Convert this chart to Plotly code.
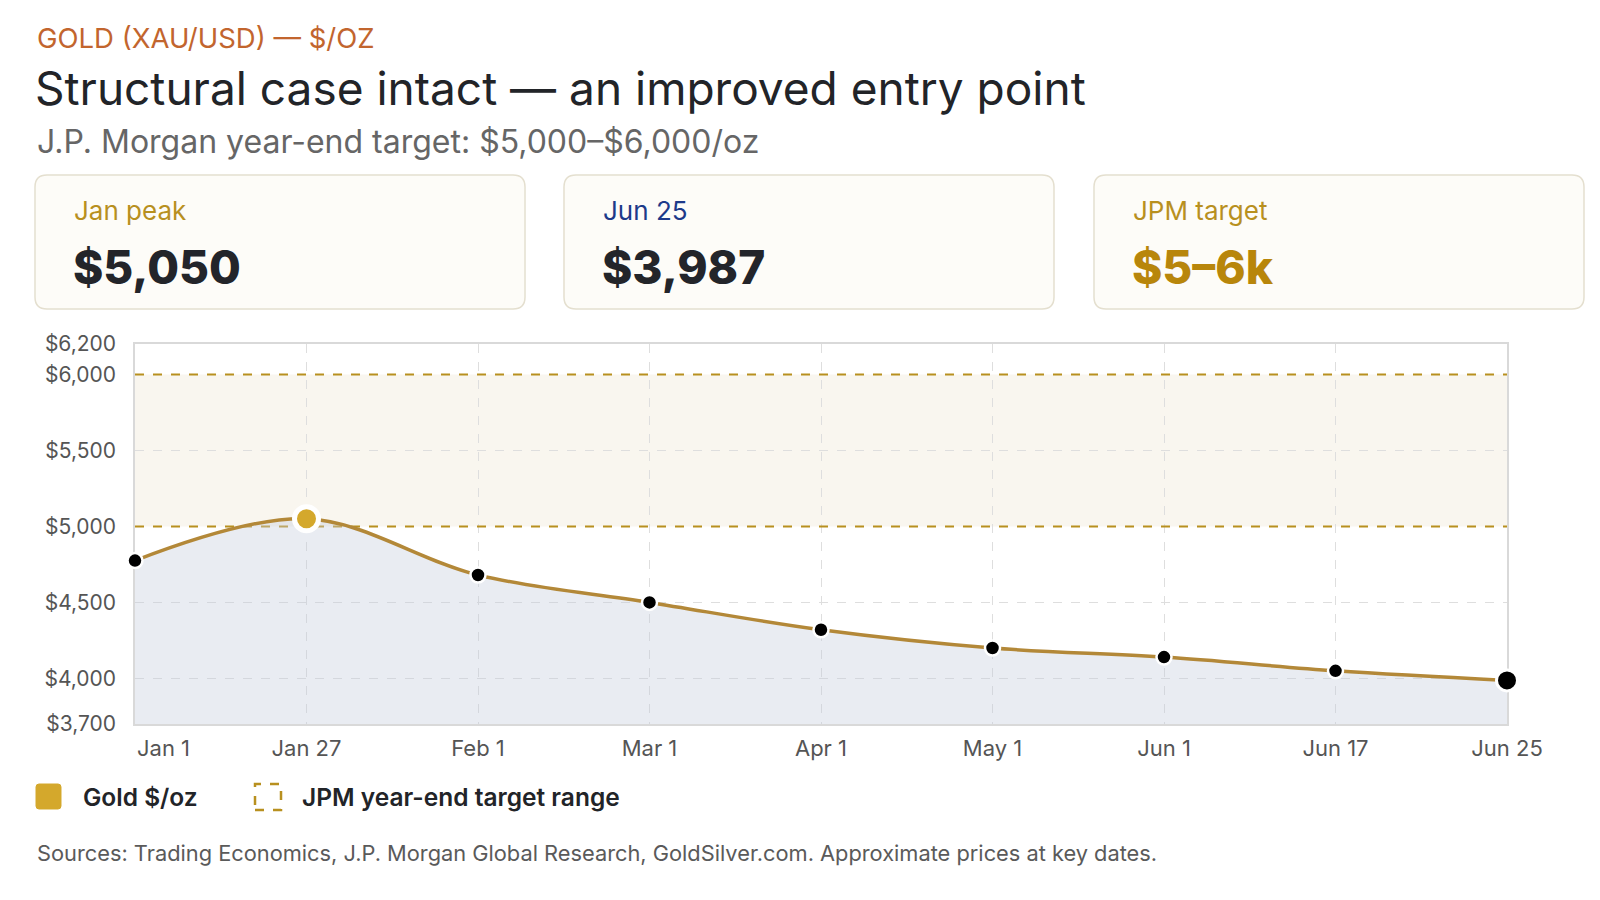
import re
import plotly.graph_objects as go

# ---------------- data ----------------
dates = ["Jan 1", "Jan 27", "Feb 1", "Mar 1", "Apr 1", "May 1", "Jun 1", "Jun 17", "Jun 25"]
prices = [4775, 5050, 4680, 4500, 4320, 4200, 4140, 4050, 3987]
target_low = 5000
target_high = 6000
y_ticks = [3700, 4000, 4500, 5000, 5500, 6000, 6200]
y_tick_labels = ["$3,700", "$4,000", "$4,500", "$5,000", "$5,500", "$6,000", "$6,200"]
cards = [
    ("Jan peak", "$5,050", "#b8901f", "#23252a"),
    ("Jun 25", "$3,987", "#1d3a8a", "#23252a"),
    ("JPM target", "$5–6k", "#b8901f", "#b8860b"),
]

# ---------------- geometry ----------------
W, H = 1600, 900
PL, PR, PT, PB = 135, 1507, 344, 724
FONT = "Inter"


def px(x):
    return (x - PL) / (PR - PL)


def py(y):
    return (PB - y) / (PB - PT)


LINE_C = "#b38838"
GOLD = "#d4a82c"
DASH_C = "#b8901f"

fig = go.Figure()

# target dashed lines (under area fill)
for v in (target_low, target_high):
    fig.add_trace(go.Scatter(
        x=dates, y=[v] * len(dates), mode="lines",
        line=dict(color=DASH_C, width=2, dash="dash"),
        hoverinfo="skip", showlegend=False,
    ))

# area + line
fig.add_trace(go.Scatter(
    x=dates, y=prices, mode="lines",
    line=dict(color=LINE_C, width=3.5, shape="spline", smoothing=1.0),
    fill="tozeroy", fillcolor="rgba(196,205,221,0.38)",
    showlegend=False, name="Gold $/oz", hoverinfo="skip",
))

peak_i = prices.index(max(prices))
last_i = len(prices) - 1
sizes = [24 if i == peak_i else (21 if i == last_i else 15) for i in range(len(prices))]
colors = [GOLD if i == peak_i else "#000000" for i in range(len(prices))]
lw = [5 if i == peak_i else (3 if i == last_i else 2.5) for i in range(len(prices))]

fig.add_trace(go.Scatter(
    x=dates, y=prices, mode="markers",
    marker=dict(size=sizes, color=colors, opacity=1, line=dict(color="white", width=lw)),
    cliponaxis=False, showlegend=False, name="Gold $/oz",
))

shapes = []
# target band
shapes.append(dict(type="rect", xref="paper", yref="y", x0=0, x1=1, y0=target_low, y1=target_high,
                   fillcolor="#f9f6ef", line=dict(width=0), layer="below"))


def conv(m):
    a, b = float(m.group(1)), float(m.group(2))
    return f"{px(a):.6f},{py(b):.6f}"


# cards
card_x = [(35, 525), (564, 1054), (1094, 1584)]
ann = []
for (x0, x1), (lab, val, lc, vc) in zip(card_x, cards):
    y0, y1 = 175, 309
    r = 12
    path = (f"M {x0 + r},{y0} L {x1 - r},{y0} Q {x1},{y0} {x1},{y0 + r} "
            f"L {x1},{y1 - r} Q {x1},{y1} {x1 - r},{y1} L {x0 + r},{y1} "
            f"Q {x0},{y1} {x0},{y1 - r} L {x0},{y0 + r} Q {x0},{y0} {x0 + r},{y0} Z")
    path_p = re.sub(r"(-?\d+\.?\d*),(-?\d+\.?\d*)", conv, path)
    shapes.append(dict(type="path", xref="paper", yref="paper", path=path_p,
                       fillcolor="#fdfcf8", line=dict(color="#e4dfcf", width=1.5)))
    ann.append(dict(x=px(x0 + 37), y=py(211), xref="paper", yref="paper", text=lab,
                    showarrow=False, xanchor="left", yanchor="middle",
                    font=dict(family=FONT, size=26, color=lc)))
    ann.append(dict(x=px(x0 + 36), y=py(267), xref="paper", yref="paper", text=val,
                    showarrow=False, xanchor="left", yanchor="middle",
                    font=dict(family=FONT, size=46, color=vc, weight=800)))

# titles
ann.append(dict(x=px(35), y=py(38), xref="paper", yref="paper", text="GOLD (XAU/USD) — $/OZ",
                showarrow=False, xanchor="left", yanchor="middle",
                font=dict(family=FONT, size=27.5, color="#c2652e")))
ann.append(dict(x=px(33), y=py(88), xref="paper", yref="paper",
                text="Structural case intact — an improved entry point",
                showarrow=False, xanchor="left", yanchor="middle",
                font=dict(family=FONT, size=46, color="#222428")))
ann.append(dict(x=px(35), y=py(141), xref="paper", yref="paper",
                text="J.P. Morgan year-end target: $5,000–$6,000/oz",
                showarrow=False, xanchor="left", yanchor="middle",
                font=dict(family=FONT, size=32, color="#666666")))

# legend
shapes.append(dict(type="path", xref="paper", yref="paper",
                   path=re.sub(r"(-?\d+\.?\d*),(-?\d+\.?\d*)", conv,
                               "M 39,784 L 58,784 Q 61,784 61,787 L 61,806 Q 61,809 58,809 "
                               "L 39,809 Q 36,809 36,806 L 36,787 Q 36,784 39,784 Z"),
                   fillcolor=GOLD, line=dict(color=GOLD, width=1)))
ann.append(dict(x=px(81), y=py(797), xref="paper", yref="paper", text="Gold $/oz",
                showarrow=False, xanchor="left", yanchor="middle",
                font=dict(family=FONT, size=24.5, color="#222428", weight=600)))
shapes.append(dict(type="rect", xref="paper", yref="paper", x0=px(255), x1=px(281), y0=py(810), y1=py(784),
                   fillcolor="rgba(0,0,0,0)", line=dict(color=DASH_C, width=2.5, dash="dash")))
ann.append(dict(x=px(300), y=py(797), xref="paper", yref="paper", text="JPM year-end target range",
                showarrow=False, xanchor="left", yanchor="middle",
                font=dict(family=FONT, size=24.5, color="#222428", weight=600)))

# first x label aligned to plot edge
ann.append(dict(x=0, y=py(748), xref="paper", yref="paper", text=dates[0],
                showarrow=False, xanchor="left", yanchor="middle",
                font=dict(family=FONT, size=22, color="#555555")))

# sources
ann.append(dict(x=px(35), y=py(853), xref="paper", yref="paper",
                text="Sources: Trading Economics, J.P. Morgan Global Research, GoldSilver.com. Approximate prices at key dates.",
                showarrow=False, xanchor="left", yanchor="middle",
                font=dict(family=FONT, size=21.8, color="#5a5a5a")))

tick_text = [""] + dates[1:]

fig.update_layout(
    width=W, height=H,
    margin=dict(l=PL, r=W - PR, t=PT, b=H - PB, pad=0),
    paper_bgcolor="white", plot_bgcolor="white",
    shapes=shapes, annotations=ann, showlegend=False,
    font=dict(family=FONT, color="#555555"),
    xaxis=dict(
        type="category", range=[0, len(dates) - 1], tickmode="array", tickvals=dates, ticktext=tick_text,
        showgrid=True, gridcolor="#dedede", griddash="dash", gridwidth=1,
        showline=True, linecolor="#d9d9d9", linewidth=1.5, mirror=True,
        ticks="", ticklabelstandoff=4, tickfont=dict(family=FONT, size=22, color="#555555"),
        zeroline=False, layer="below traces",
    ),
    yaxis=dict(
        range=[3700, 6200], tickmode="array", tickvals=y_ticks, ticktext=y_tick_labels,
        showgrid=True, gridcolor="#dedede", griddash="dash", gridwidth=1,
        showline=True, linecolor="#d9d9d9", linewidth=1.5, mirror=True,
        ticks="", ticklabelstandoff=13, tickfont=dict(family=FONT, size=21, color="#555555"),
        zeroline=False, layer="below traces",
    ),
)

fig.write_html("out.html")
